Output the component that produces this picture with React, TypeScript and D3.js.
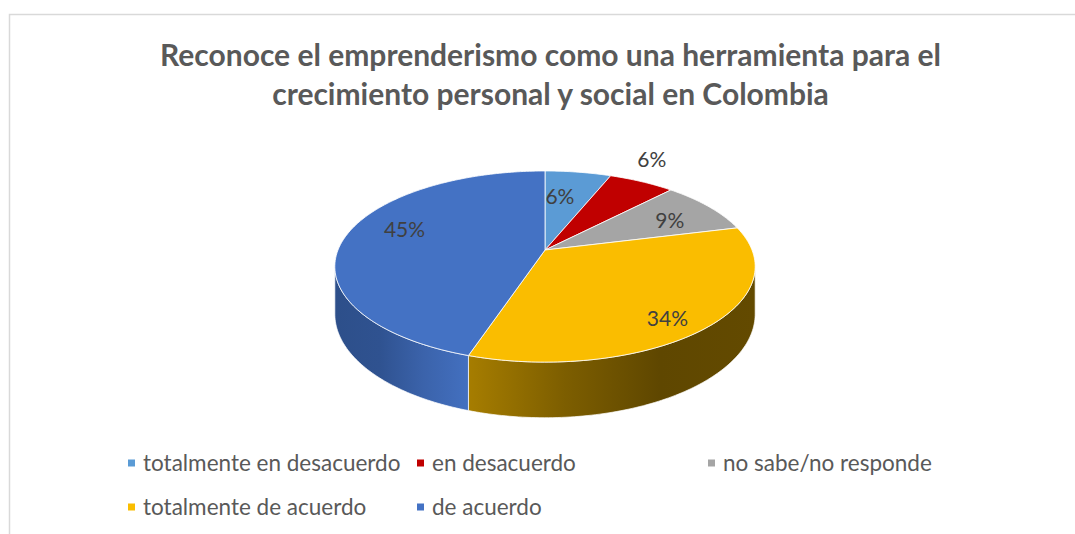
import React from "react";
import * as d3 from "d3";

const categorias = [
  "totalmente en desacuerdo",
  "en desacuerdo",
  "no sabe/no responde",
  "totalmente de acuerdo",
  "de acuerdo",
];
const valores = [6, 6, 9, 34, 45];
const etiquetas = ["6%", "6%", "9%", "34%", "45%"];
const colores = ["#5B9BD5", "#C00000", "#A5A5A5", "#FABD00", "#4472C4"];
// posicion de cada etiqueta: radio relativo y giro (grados) sobre el angulo medio
const radioEtiqueta = [0.64, 1.32, 0.72, 0.84, 0.74];
const giroEtiqueta = [-3.6, -4.4, 3, 4.6, 8.7];

const titulo = [
  "Reconoce el emprenderismo como una herramienta para el",
  "crecimiento personal y social en Colombia",
];

const W = 1075;
const H = 534;

// proyeccion en perspectiva del disco
const cx = 545;
const cy = 250;
const A = 207;
const B = 92.7;
const k = 0.173;
const grosor = 46;

function proj(theta: number, r = 1, drop = 0): [number, number] {
  const s = Math.sin(theta) * r;
  const t = Math.cos(theta) * r;
  const w = 1 + k * t;
  return [cx + (A * s) / w, cy - (B * t) / w + drop / w];
}

function arco(a0: number, a1: number, drop = 0) {
  const n = Math.max(2, Math.ceil(((a1 - a0) * 180) / Math.PI));
  return d3.range(n + 1).map((i) => proj(a0 + ((a1 - a0) * i) / n, 1, drop));
}

const linea = d3.line();

export default function App() {
  const pie = d3
    .pie<number>()
    .sort(null)
    .value((d) => d)(valores);

  const vis0 = Math.acos(-k);
  const vis1 = 2 * Math.PI - vis0;

  // sombreado de las paredes laterales
  const sombras: Record<number, string[]> = {
    3: ["#a67d00", "#7d5e00", "#5f4700", "#634a00"],
    4: ["#4370c0", "#3b63ab", "#2f5290", "#2d4f8a"],
  };

  return (
    <svg
      width={W}
      height={H}
      style={{ position: "absolute", left: 0, top: 0, background: "#fff" }}
    >
      <defs>
        {Object.entries(sombras).map(([i, c]) => {
          const sl = pie[+i];
          const b0 = Math.max(sl.startAngle, vis0);
          const b1 = Math.min(sl.endAngle, vis1);
          const x0 = Math.min(proj(b0)[0], proj(b1)[0]);
          const x1 = Math.max(proj(b0)[0], proj(b1)[0]);
          const stops = +i === 4 ? [...c].reverse() : c;
          return (
            <linearGradient
              key={i}
              id={`lado${i}`}
              gradientUnits="userSpaceOnUse"
              x1={x0}
              x2={x1}
              y1={0}
              y2={0}
            >
              {stops.map((col, j) => (
                <stop key={j} offset={j / (stops.length - 1)} stopColor={col} />
              ))}
            </linearGradient>
          );
        })}
      </defs>

      <rect
        x={9.5}
        y={14.5}
        width={1200}
        height={700}
        fill="none"
        stroke="#d9d9d9"
        strokeWidth={1.5}
      />

      <g
        fontFamily="Lato, 'Open Sans', sans-serif"
        fontWeight="bold"
        fontSize={30}
        fill="#595959"
        textAnchor="middle"
      >
        {titulo.map((l, i) => (
          <text key={i} x={550.5} y={66 + i * 39}>
            {l}
          </text>
        ))}
      </g>

      {pie.map((sl, i) => {
        const b0 = Math.max(sl.startAngle, vis0);
        const b1 = Math.min(sl.endAngle, vis1);
        if (b1 <= b0) return null;
        const pts = [...arco(b0, b1, 0), ...arco(b0, b1, grosor).reverse()];
        return (
          <path
            key={`s${i}`}
            d={linea(pts) + "Z"}
            fill={sombras[i] ? `url(#lado${i})` : colores[i]}
            stroke="#ffffff"
            strokeOpacity={0.7}
            strokeWidth={1}
          />
        );
      })}

      {pie.map((sl, i) => {
        const pts = [[cx, cy] as [number, number], ...arco(sl.startAngle, sl.endAngle)];
        return (
          <path
            key={`t${i}`}
            d={linea(pts) + "Z"}
            fill={colores[i]}
            stroke="#ffffff"
            strokeOpacity={0.8}
            strokeWidth={1}
            strokeLinejoin="round"
          />
        );
      })}

      <g fontFamily="Lato, 'Open Sans', sans-serif" fontSize={21} fill="#404040" textAnchor="middle">
        {pie.map((sl, i) => {
          const a = (sl.startAngle + sl.endAngle) / 2 + (giroEtiqueta[i] * Math.PI) / 180;
          const [x, y] = proj(a, radioEtiqueta[i]);
          return (
            <text key={i} x={x} y={y} dy="0.35em">
              {etiquetas[i]}
            </text>
          );
        })}
      </g>

      <g fontFamily="Lato, 'Open Sans', sans-serif" fontSize={22.5} fill="#595959">
        {categorias.map((c, i) => {
          const fila = i < 3 ? 0 : 1;
          const xx = [128, 417, 708][fila === 0 ? i : i - 3];
          const yy = 463 + fila * 44;
          return (
            <g key={c} transform={`translate(${xx},${yy})`}>
              <rect x={0} y={-3.5} width={7} height={7} fill={colores[i]} />
              <text x={15} y={0} dy="0.35em">
                {c}
              </text>
            </g>
          );
        })}
      </g>
    </svg>
  );
}
